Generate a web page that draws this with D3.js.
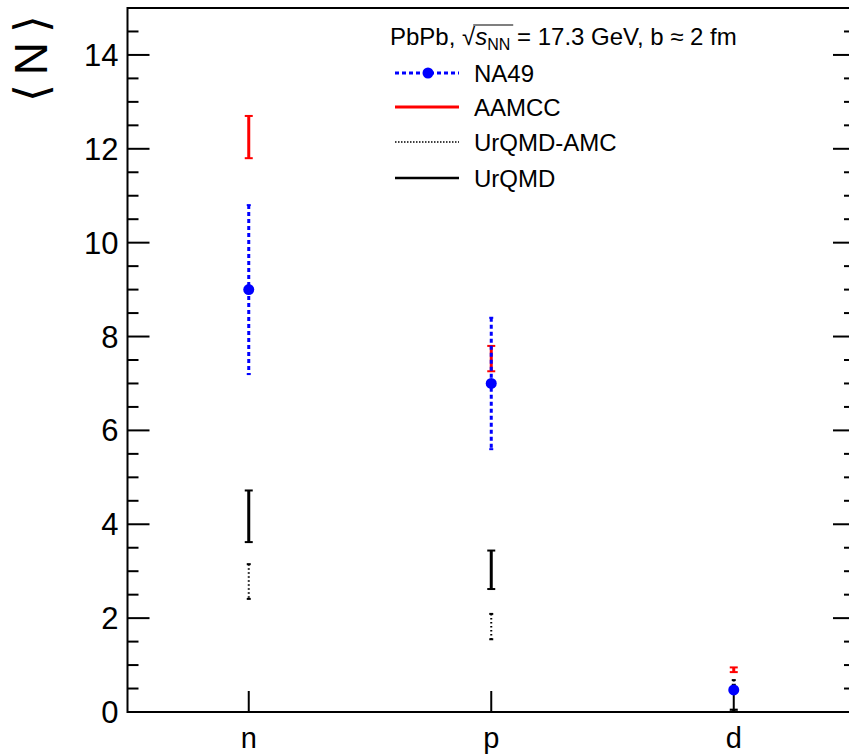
<!DOCTYPE html>
<html>
<head>
<meta charset="utf-8">
<script src="https://cdn.jsdelivr.net/npm/d3@7"></script>
<style>
  body { margin: 0; background: #fff; }
  svg { display: block; font-family: "Liberation Sans", Arial, sans-serif; }
</style>
</head>
<body>
<div id="chart"></div>
<script>
const categories = ["n", "p", "d"];
const yTicks = [0, 2, 4, 6, 8, 10, 12, 14];

// NA49 data, model values (centre ± half-width of the band)
const na49Values = [9.0, 7.0, 0.47];
const na49Errors = [1.8, 1.4, 0.08];
const aamccValues = [12.25, 7.53, 0.90];
const aamccErrors = [0.45, 0.27, 0.05];
const urqmdAmcValues = [2.78, 1.82, 0.63];
const urqmdAmcErrors = [0.37, 0.27, 0.05];
const urqmdValues = [4.17, 3.03, 0.03];
const urqmdErrors = [0.55, 0.41, 0.02];

const width = 849, height = 754;
const plotLeft = 127.5, plotRight = 855, plotTop = 8, plotBottom = 712;

const svg = d3.select("#chart").append("svg")
    .attr("width", width)
    .attr("height", height);

const x = d3.scaleBand().domain(categories).range([plotLeft, plotRight]).padding(0);
const y = d3.scaleLinear().domain([0, 15]).range([plotBottom, plotTop]);
const cx = d => x(d) + x.bandwidth() / 2;

// frame
svg.append("rect")
    .attr("x", plotLeft).attr("y", y(15))
    .attr("width", plotRight - plotLeft).attr("height", plotBottom - y(15))
    .attr("fill", "none").attr("stroke", "#000").attr("stroke-width", 2);

// y ticks (left and right, pointing inward)
const minorTicks = d3.range(0, 15.01, 0.5).filter(v => v % 2 !== 0);
const tickG = svg.append("g").attr("stroke", "#000").attr("stroke-width", 2);
yTicks.forEach(v => {
    tickG.append("line").attr("x1", plotLeft).attr("x2", plotLeft + 22).attr("y1", y(v)).attr("y2", y(v));
    tickG.append("line").attr("x1", plotRight).attr("x2", plotRight - 22).attr("y1", y(v)).attr("y2", y(v));
});
minorTicks.forEach(v => {
    tickG.append("line").attr("x1", plotLeft).attr("x2", plotLeft + 11).attr("y1", y(v)).attr("y2", y(v));
    tickG.append("line").attr("x1", plotRight).attr("x2", plotRight - 11).attr("y1", y(v)).attr("y2", y(v));
});
categories.forEach(c => {
    tickG.append("line").attr("x1", cx(c)).attr("x2", cx(c)).attr("y1", plotBottom).attr("y2", plotBottom - 21);
});

// tick labels
svg.append("g").selectAll("text").data(yTicks).enter().append("text")
    .attr("x", plotLeft - 9).attr("y", d => y(d) + 11)
    .attr("text-anchor", "end").attr("font-size", 31)
    .text(d => d);

svg.append("g").selectAll("text").data(categories).enter().append("text")
    .attr("x", d => cx(d)).attr("y", 748)
    .attr("text-anchor", "middle").attr("font-size", 29)
    .text(d => d);

// y title
svg.append("text")
    .attr("transform", `translate(47,6) rotate(-90)`)
    .attr("text-anchor", "end").attr("font-size", 46)
    .attr("letter-spacing", 9)
    .text("\u27E8N\u27E9");

// error bars
function drawBars(values, errors, color, opts) {
    const g = svg.append("g").attr("stroke", color).attr("stroke-width", opts.width);
    categories.forEach((c, i) => {
        const x0 = cx(c);
        g.append("line")
            .attr("x1", x0).attr("x2", x0)
            .attr("y1", y(values[i] + errors[i])).attr("y2", y(values[i] - errors[i]))
            .attr("stroke-dasharray", opts.dash || null);
        if (opts.cap) {
            [values[i] + errors[i], values[i] - errors[i]].forEach(v => {
                g.append("line")
                    .attr("x1", x0 - opts.cap).attr("x2", x0 + opts.cap)
                    .attr("y1", y(v)).attr("y2", y(v))
                    .attr("stroke-width", 2);
            });
        }
    });
}

drawBars(urqmdAmcValues, urqmdAmcErrors, "#000", { width: 2, dash: "1.5,2.5", cap: 2 });
drawBars(urqmdValues, urqmdErrors, "#000", { width: 3, cap: 4 });
drawBars(aamccValues, aamccErrors, "#f00", { width: 3, cap: 4 });
drawBars(na49Values, na49Errors, "#00f", { width: 3, dash: "4,3", cap: 2 });

svg.append("g").selectAll("circle").data(categories).enter().append("circle")
    .attr("cx", d => cx(d)).attr("cy", (d, i) => y(na49Values[i]))
    .attr("r", 5.5).attr("fill", "#00f");

// legend
const header = svg.append("text").attr("x", 390).attr("y", 45).attr("font-size", 24);
header.append("tspan").text("PbPb, \u221A");
header.append("tspan").attr("font-style", "italic").text("s");
header.append("tspan").attr("font-size", 16).attr("dy", 5).text("NN");
header.append("tspan").attr("dy", -5).text(" = 17.3 GeV, b \u2248 2 fm");
const sIdx = "PbPb, \u221A".length;
const sExt = header.node().getExtentOfChar(sIdx);
const rootExt = header.node().getExtentOfChar(sIdx - 1);
svg.append("line")
    .attr("x1", rootExt.x + rootExt.width - 2).attr("x2", sExt.x + sExt.width + 26)
    .attr("y1", 25).attr("y2", 25)
    .attr("stroke", "#000").attr("stroke-width", 1.2);

const legendItems = [
    { label: "NA49", color: "#00f", width: 3, dash: "4,3", marker: true, y: 73 },
    { label: "AAMCC", color: "#f00", width: 3, y: 107 },
    { label: "UrQMD-AMC", color: "#000", width: 1.5, dash: "1.5,1.5", y: 142 },
    { label: "UrQMD", color: "#000", width: 2.5, y: 178 }
];
const lg = svg.append("g");
legendItems.forEach(it => {
    lg.append("line")
        .attr("x1", 395).attr("x2", 459).attr("y1", it.y).attr("y2", it.y)
        .attr("stroke", it.color).attr("stroke-width", it.width)
        .attr("stroke-dasharray", it.dash || null);
    if (it.marker) {
        lg.append("circle").attr("cx", 428).attr("cy", it.y).attr("r", 5.5).attr("fill", it.color);
    }
    lg.append("text").attr("x", 474).attr("y", it.y + 9).attr("font-size", 24).text(it.label);
});
</script>
</body>
</html>
